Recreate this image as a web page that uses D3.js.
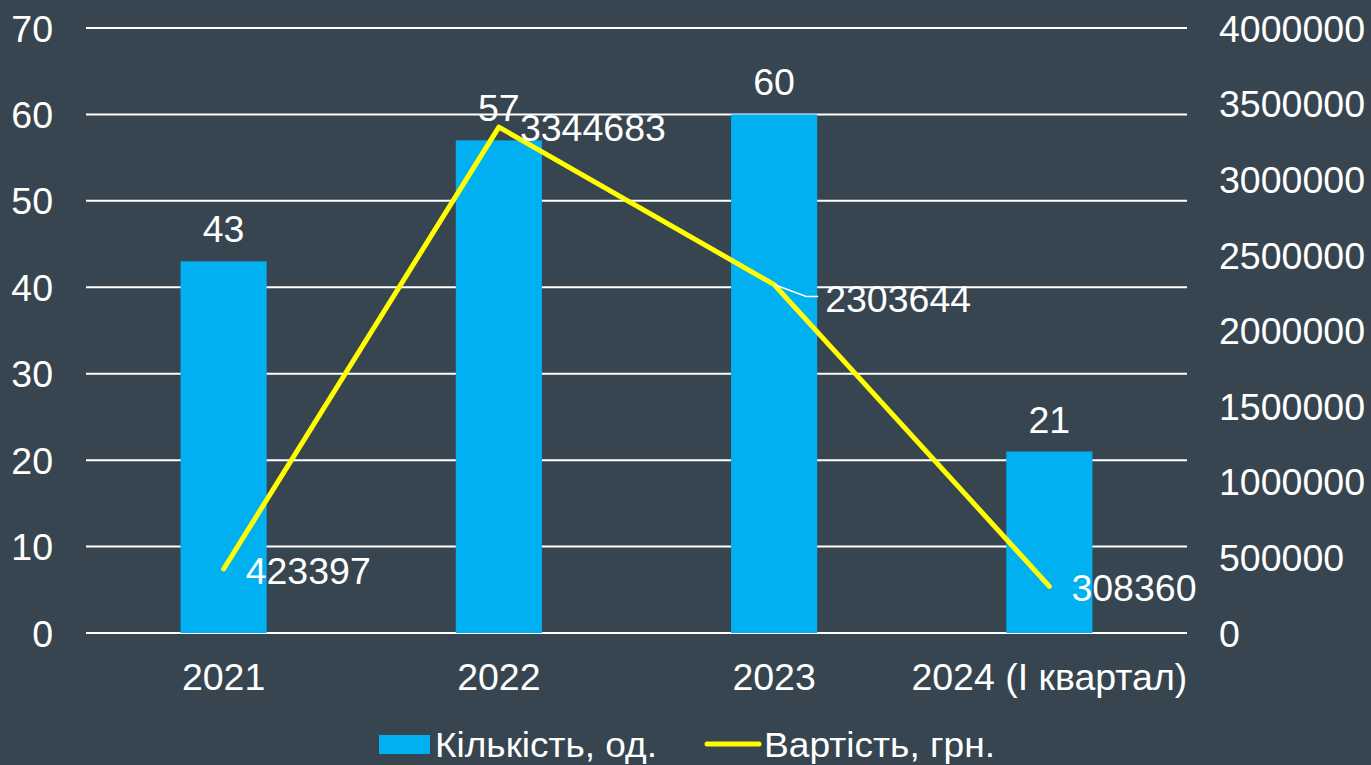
<!DOCTYPE html>
<html>
<head>
<meta charset="utf-8">
<script src="https://cdn.jsdelivr.net/npm/d3@7"></script>
<style>
  html, body { margin: 0; padding: 0; background: #36454f; }
  svg { display: block; font-family: "Liberation Sans", Arial, sans-serif; }
</style>
</head>
<body>
<svg id="chart" width="1371" height="765"></svg>
<script>
// Дані
const roky = ['2021', '2022', '2023', '2024 (І квартал)'];
const kilkist = [43, 57, 60, 21];
const vartist = [423397, 3344683, 2303644, 308360];
const tikyLivi = [0, 10, 20, 30, 40, 50, 60, 70];
const tikyPravi = [0, 500000, 1000000, 1500000, 2000000, 2500000, 3000000, 3500000, 4000000];

const svg = d3.select('#chart');
const livo = 86, pravo = 1187, verh = 28, niz = 633;
const shryft = '37.5px';

const x = d3.scaleBand().domain(roky).range([livo, pravo]);
const yL = d3.scaleLinear().domain([0, 70]).range([niz, verh]);
const yR = d3.scaleLinear().domain([0, 4000000]).range([niz, verh]);

// Сітка
svg.append('g')
  .selectAll('line')
  .data(tikyLivi)
  .enter()
  .append('line')
  .attr('x1', livo)
  .attr('x2', pravo)
  .attr('y1', d => yL(d))
  .attr('y2', d => yL(d))
  .attr('stroke', '#ffffff')
  .attr('stroke-width', 2);

// Ліва вісь
const osL = svg.append('g')
  .attr('transform', `translate(${livo - 33},0)`)
  .call(d3.axisLeft(yL).tickValues(tikyLivi).tickSize(0).tickPadding(0));
osL.select('.domain').remove();
osL.selectAll('text').attr('fill', '#ffffff').style('font-size', shryft).attr('dy', '0.35em');

// Права вісь
const osR = svg.append('g')
  .attr('transform', `translate(${pravo + 32},0)`)
  .call(d3.axisRight(yR).tickValues(tikyPravi).tickFormat(d3.format('d')).tickSize(0).tickPadding(0));
osR.select('.domain').remove();
osR.selectAll('text').attr('fill', '#ffffff').style('font-size', shryft).attr('dy', '0.35em');

// Вісь X
const osX = svg.append('g')
  .attr('transform', `translate(0,${niz})`)
  .call(d3.axisBottom(x).tickSize(0).tickPadding(0));
osX.select('.domain').remove();
osX.selectAll('text').attr('fill', '#ffffff').style('font-size', shryft).attr('dy', '57px');

// Стовпці
const shyryna = x.bandwidth() * 0.313;
svg.append('g')
  .selectAll('rect')
  .data(kilkist)
  .enter()
  .append('rect')
  .attr('x', (d, i) => x(roky[i]) + x.bandwidth() / 2 - shyryna / 2)
  .attr('y', d => yL(d))
  .attr('width', shyryna)
  .attr('height', d => niz - yL(d))
  .attr('fill', '#00b0f0');

// Підписи стовпців
svg.append('g')
  .selectAll('text')
  .data(kilkist)
  .enter()
  .append('text')
  .attr('x', (d, i) => x(roky[i]) + x.bandwidth() / 2)
  .attr('y', d => yL(d) - 19)
  .attr('text-anchor', 'middle')
  .attr('fill', '#ffffff')
  .style('font-size', shryft)
  .text(d => d);

// Лінія
const tochky = vartist.map((d, i) => [x(roky[i]) + x.bandwidth() / 2, yR(d)]);
svg.append('path')
  .attr('d', d3.line()(tochky))
  .attr('fill', 'none')
  .attr('stroke', '#ffff00')
  .attr('stroke-width', 5)
  .attr('stroke-linejoin', 'round')
  .attr('stroke-linecap', 'round');

// Підписи лінії (третій зсунутий, з виноскою)
const zsuv = [[22, 15], [21, 14], [51, 27], [22, 15]];
svg.append('g')
  .selectAll('text')
  .data(vartist)
  .enter()
  .append('text')
  .attr('x', (d, i) => tochky[i][0] + zsuv[i][0])
  .attr('y', (d, i) => tochky[i][1] + zsuv[i][1])
  .attr('fill', '#ffffff')
  .style('font-size', shryft)
  .text(d => d);

const t3 = tochky[2];
svg.append('path')
  .attr('d', `M${t3[0]},${t3[1]} L${t3[0] + 32},${t3[1] + 12} L${t3[0] + 44},${t3[1] + 12}`)
  .attr('fill', 'none')
  .attr('stroke', '#ffffff')
  .attr('stroke-width', 1.5);

// Легенда
const leg = svg.append('g');
leg.append('rect')
  .attr('x', 379).attr('y', 735).attr('width', 51).attr('height', 19)
  .attr('fill', '#00b0f0');
leg.append('text')
  .attr('x', 435).attr('y', 757)
  .attr('fill', '#ffffff')
  .style('font-size', '35px')
  .attr('textLength', 222)
  .attr('lengthAdjust', 'spacingAndGlyphs')
  .text('Кількість, од.');
leg.append('line')
  .attr('x1', 707).attr('x2', 759).attr('y1', 744).attr('y2', 744)
  .attr('stroke', '#ffff00').attr('stroke-width', 5).attr('stroke-linecap', 'round');
leg.append('text')
  .attr('x', 764).attr('y', 757)
  .attr('fill', '#ffffff')
  .style('font-size', '35px')
  .attr('textLength', 231)
  .attr('lengthAdjust', 'spacingAndGlyphs')
  .text('Вартість, грн.');
</script>
</body>
</html>
